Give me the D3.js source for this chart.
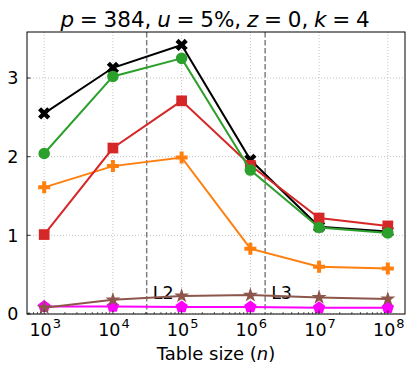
<!DOCTYPE html>
<html>
<head>
<meta charset="utf-8">
<script src="https://cdn.jsdelivr.net/npm/d3@7"></script>
<style>
  body { margin: 0; background: #fff; }
  text { font-family: "DejaVu Sans", sans-serif; fill: #000; }
</style>
</head>
<body>
<div id="chart"></div>
<script>
// table sizes (n)
const sizes = [1e3, 1e4, 1e5, 1e6, 1e7, 1e8];
const blackVals   = [2.55, 3.13, 3.42, 1.96, 1.11, 1.05];
const greenVals   = [2.04, 3.02, 3.25, 1.83, 1.10, 1.03];
const redVals     = [1.01, 2.11, 2.71, 1.89, 1.22, 1.12];
const orangeVals  = [1.61, 1.88, 1.99, 0.83, 0.60, 0.58];
const brownVals   = [0.08, 0.18, 0.23, 0.24, 0.21, 0.19];
const magentaVals = [0.095, 0.095, 0.09, 0.09, 0.08, 0.08];
const yTicks = [0, 1, 2, 3];
const cacheLines = [{label: "L2", n: 31000}, {label: "L3", n: 1640000}];

const width = 413, height = 371;
const margin = {left: 27, right: 8, top: 32, bottom: 57};
const W = width - margin.left - margin.right;
const H = height - margin.top - margin.bottom;

const svg = d3.select("#chart").append("svg")
  .attr("width", width).attr("height", height);
const g = svg.append("g").attr("transform", `translate(${margin.left},${margin.top})`);

const x = d3.scaleLog().domain([Math.pow(10, 2.75), Math.pow(10, 8.25)]).range([0, W]);
const y = d3.scaleLinear().domain([0, 3.585]).range([H, 0]);

// grid
g.selectAll(".gx").data(sizes).enter().append("line")
  .attr("x1", d => x(d)).attr("x2", d => x(d)).attr("y1", 0).attr("y2", H)
  .attr("stroke", "#b0b0b0").attr("stroke-width", 0.8).attr("stroke-dasharray", "1,2");
g.selectAll(".gy").data(yTicks).enter().append("line")
  .attr("x1", 0).attr("x2", W).attr("y1", d => y(d)).attr("y2", d => y(d))
  .attr("stroke", "#b0b0b0").attr("stroke-width", 0.8).attr("stroke-dasharray", "1,2");

// cache lines
g.selectAll(".cache").data(cacheLines).enter().append("line")
  .attr("x1", d => x(d.n)).attr("x2", d => x(d.n)).attr("y1", 0).attr("y2", H)
  .attr("stroke", "#808080").attr("stroke-width", 1.5).attr("stroke-dasharray", "5.5,2.5");
g.selectAll(".cacheLbl").data(cacheLines).enter().append("text")
  .attr("x", d => x(d.n) + 6).attr("y", y(0.19))
  .attr("font-size", 17.5).text(d => d.label);

// symbols
function pentagon(r) {
  const pts = d3.range(5).map(i => {
    const a = -Math.PI / 2 + i * 2 * Math.PI / 5;
    return [r * Math.cos(a), r * Math.sin(a)];
  });
  return d3.line()(pts) + "Z";
}
function plusPath(s) {
  const a = s, b = s / 3;
  return `M${-b},${-a}H${b}V${-b}H${a}V${b}H${b}V${a}H${-b}V${b}H${-a}V${-b}H${-b}Z`;
}
const series = [
  {vals: magentaVals, color: "#ff00ff", marker: () => pentagon(6.5)},
  {vals: brownVals, color: "#8c564b", marker: () => d3.symbol(d3.symbolStar, 70)()},
  {vals: orangeVals, color: "#ff7f0e", marker: () => plusPath(6)},
  {vals: blackVals, color: "#000000", marker: () => plusPath(6.5), rot: 45},
  {vals: redVals, color: "#d62728", marker: () => d3.symbol(d3.symbolSquare, 115)()},
  {vals: greenVals, color: "#2ca02c", marker: () => d3.symbol(d3.symbolCircle, 105)()}
];

const line = d3.line().x((d, i) => x(sizes[i])).y(d => y(d));
series.forEach(s => {
  g.append("path").datum(s.vals).attr("d", line)
    .attr("fill", "none").attr("stroke", s.color).attr("stroke-width", 2);
  g.selectAll(null).data(s.vals).enter().append("path")
    .attr("d", s.marker())
    .attr("transform", (d, i) => `translate(${x(sizes[i])},${y(d)})` + (s.rot ? ` rotate(${s.rot})` : ""))
    .attr("fill", s.color);
});

// frame
g.append("rect").attr("width", W).attr("height", H)
  .attr("fill", "none").attr("stroke", "#000").attr("stroke-width", 1);

// x ticks (inward), major + minor
const minor = [];
for (let e = 2; e <= 8; e++) for (let k = 2; k <= 9; k++) {
  const v = k * Math.pow(10, e);
  if (v > x.domain()[0] && v < x.domain()[1]) minor.push(v);
}
g.selectAll(".mx").data(minor).enter().append("line")
  .attr("x1", d => x(d)).attr("x2", d => x(d)).attr("y1", H).attr("y2", H - 2)
  .attr("stroke", "#000").attr("stroke-width", 0.6);
g.selectAll(".tx").data(sizes).enter().append("line")
  .attr("x1", d => x(d)).attr("x2", d => x(d)).attr("y1", H).attr("y2", H - 3.5)
  .attr("stroke", "#000").attr("stroke-width", 0.8);
const xl = g.selectAll(".xl").data(sizes).enter().append("text")
  .attr("x", d => x(d) + 1).attr("y", H + 21.5).attr("text-anchor", "middle")
  .attr("font-size", 17.5);
xl.append("tspan").text("10");
xl.append("tspan").attr("dx", 1).attr("dy", -8).attr("font-size", 13).text(d => Math.round(Math.log10(d)));

// y ticks
g.selectAll(".ty").data(yTicks).enter().append("line")
  .attr("x1", 0).attr("x2", 3.5).attr("y1", d => y(d)).attr("y2", d => y(d))
  .attr("stroke", "#000").attr("stroke-width", 0.8);
g.selectAll(".yl").data(yTicks).enter().append("text")
  .attr("x", -8.5).attr("y", d => y(d) + 6.3).attr("text-anchor", "end")
  .attr("font-size", 17.5).text(d => d);

// axis label
const xlab = svg.append("text").attr("x", margin.left + W / 2).attr("y", 360)
  .attr("text-anchor", "middle").attr("font-size", 18);
xlab.append("tspan").text("Table size (");
xlab.append("tspan").attr("font-style", "italic").text("n");
xlab.append("tspan").text(")");

// title
const title = svg.append("text").attr("x", margin.left + W / 2 - 1).attr("y", 27)
  .attr("text-anchor", "middle").attr("font-size", 21.5).attr("word-spacing", -1.1);
[["p", 1], [" = 384, ", 0], ["u", 1], [" = 5%, ", 0], ["z", 1], [" = 0, ", 0], ["k", 1], [" = 4", 0]]
  .forEach(([t, it]) => title.append("tspan").attr("font-style", it ? "italic" : null).text(t));
</script>
</body>
</html>
